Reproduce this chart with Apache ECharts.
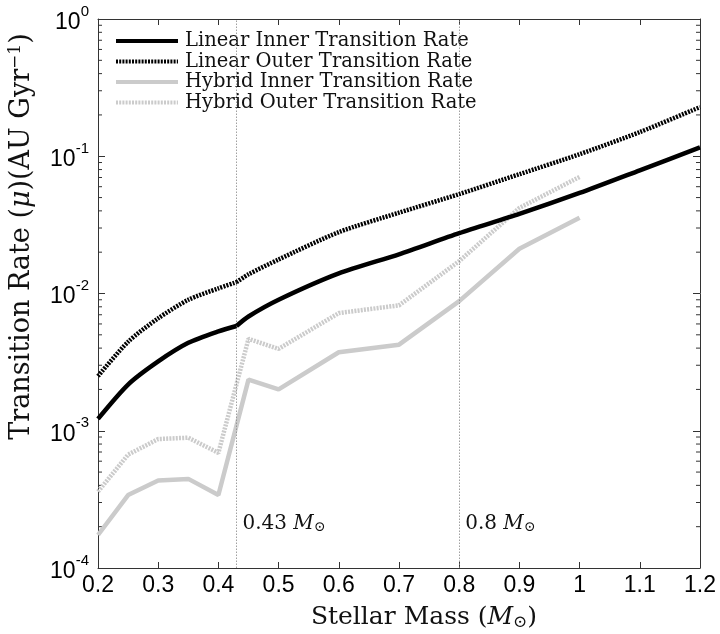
<!DOCTYPE html>
<html>
<head>
<meta charset="utf-8">
<script src="https://cdn.jsdelivr.net/npm/echarts@6/dist/echarts.min.js"></script>
<style>html,body{margin:0;padding:0;background:#fff}#c{width:720px;height:634px}</style>
</head>
<body>
<div id="c"></div>
<script>
// Stellar mass samples (M_sun); linear model has a kink at 0.43 M_sun
const linMassLow = [0.2, 0.25, 0.3, 0.35, 0.4, 0.43];
const linMassHigh = [0.43, 0.45, 0.5, 0.6, 0.7, 0.8, 0.9, 1.0, 1.1, 1.2];
const linInnerLow = [1.22e-3, 2.17e-3, 3.2e-3, 4.37e-3, 5.3e-3, 5.8e-3];
const linInnerHigh = [5.8e-3, 6.8e-3, 9.0e-3, 0.0140, 0.0193, 0.0275, 0.038, 0.054, 0.079, 0.116];
const linOuterLow = [2.5e-3, 4.45e-3, 6.6e-3, 9.0e-3, 0.0109, 0.0121];
const linOuterHigh = [0.0121, 0.0138, 0.0177, 0.0280, 0.0388, 0.053, 0.074, 0.1035, 0.15, 0.228];
const hybMass = [0.2, 0.25, 0.3, 0.35, 0.4, 0.45, 0.5, 0.6, 0.7, 0.8, 0.9, 1.0];
const hybInner = [1.74e-4, 3.4e-4, 4.34e-4, 4.46e-4, 3.4e-4, 2.36e-3, 2.0e-3, 3.73e-3, 4.24e-3, 8.8e-3, 0.0212, 0.0357];
const hybOuter = [3.6e-4, 6.7e-4, 8.7e-4, 8.9e-4, 6.9e-4, 4.67e-3, 3.95e-3, 7.2e-3, 8.2e-3, 0.0172, 0.042, 0.0707];
const seriesNames = ['Linear Inner Transition Rate', 'Linear Outer Transition Rate', 'Hybrid Inner Transition Rate', 'Hybrid Outer Transition Rate'];
const markMasses = [0.43, 0.8];
const markLabels = ['0.43', '0.8'];
const markLabelY = 2.1e-4;
const xMin = 0.2, xMax = 1.2, xStep = 0.1;
const yMin = 1e-4, yMax = 1;
const minorVals = [];
for (let d = -4; d < 0; d++) for (let k = 2; k <= 9; k++) minorVals.push(k * Math.pow(10, d));

const zip = (xs, ys) => xs.map((x, i) => [x, ys[i]]);
const serif = 'DejaVu Serif';
const sans = 'Liberation Sans';
const axisColor = '#333';
const gray = '#cbcbcb';
const dotted = [2, 1.2];

const chart = echarts.init(document.getElementById('c'), null, {renderer: 'canvas'});

function linSeries(name, data, dashed) {
  return {
    name: name, type: 'line', data: data, symbol: 'none', z: 5,
    smooth: 0.25,
    lineStyle: {color: '#000', width: 4.5, type: dashed ? dotted : 'solid'},
    itemStyle: {color: '#000', opacity: 0}
  };
}
function hybSeries(name, data, dashed) {
  return {
    name: name, type: 'line', data: data, symbol: 'none', z: 4,
    lineStyle: {color: gray, width: 4.5, type: dashed ? dotted : 'solid'},
    itemStyle: {color: gray, opacity: 0}
  };
}

const s0 = linSeries(seriesNames[0], zip(linMassLow, linInnerLow), false);
s0.markLine = {
  silent: true, symbol: 'none', label: {show: false},
  lineStyle: {color: '#888', width: 0.8, type: [1.5, 1.5]},
  data: markMasses.map(m => ({xAxis: m}))
};

const option = {
  backgroundColor: '#fff',
  animation: false,
  grid: {left: 98, right: 20, top: 19, bottom: 66, containLabel: false, outerBoundsMode: 'none'},
  legend: {
    data: seriesNames,
    orient: 'vertical',
    left: 114, top: 31,
    padding: 0,
    itemWidth: 62, itemHeight: 10, itemGap: 0.5,
    itemStyle: {opacity: 0},
    lineStyle: {width: 4},
    textStyle: {fontFamily: serif, fontSize: 19.5, color: '#111', lineHeight: 18, padding: [0, 0, 0, 2]},
    selectedMode: false
  },
  xAxis: [{
    type: 'value', min: xMin, max: xMax, interval: xStep,
    name: 'Stellar Mass ({i|M}{s|⊙})',
    nameLocation: 'middle', nameGap: 36,
    nameTextStyle: {fontFamily: serif, fontSize: 25, color: '#111', padding: [0, 0, 0, 50],
      rich: {i: {fontFamily: serif, fontStyle: 'italic', fontSize: 25, color: '#111'},
             s: {fontFamily: serif, fontSize: 17, color: '#111', padding: [10, 0, 0, 0]}}},
    axisLine: {show: true, lineStyle: {color: axisColor, width: 1}},
    axisTick: {show: true, inside: true, length: 6, lineStyle: {color: axisColor}},
    axisLabel: {fontFamily: sans, fontSize: 23, color: '#000', margin: 6,
      formatter: v => String(+v.toFixed(1))},
    splitLine: {show: false}
  }, {
    type: 'value', min: xMin, max: xMax, interval: xStep, position: 'top',
    axisLine: {show: true, lineStyle: {color: axisColor, width: 1}},
    axisTick: {show: true, inside: true, length: 6, lineStyle: {color: axisColor}},
    axisLabel: {show: false}, splitLine: {show: false}
  }],
  yAxis: [{
    type: 'log', logBase: 10, min: yMin, max: yMax,
    name: 'Transition Rate ({i|μ})(AU Gyr{s|−1})',
    nameLocation: 'middle', nameGap: 62, nameRotate: 90,
    nameTextStyle: {fontFamily: serif, fontSize: 27, color: '#111', padding: [0, 0, 0, 114],
      rich: {i: {fontFamily: serif, fontStyle: 'italic', fontSize: 27, color: '#111'},
             s: {fontFamily: serif, fontSize: 17, color: '#111', padding: [0, 0, 12, 0]}}},
    axisLine: {show: true, lineStyle: {color: axisColor, width: 1}},
    axisTick: {show: true, inside: true, length: 7, lineStyle: {color: axisColor}},
    axisLabel: {margin: 9, formatter: v => '{b|10}{e|' + Math.round(Math.log10(v)) + '}',
      rich: {b: {fontFamily: sans, fontSize: 23, color: '#000', verticalAlign: 'bottom', lineHeight: 30},
             e: {fontFamily: sans, fontSize: 15, color: '#000', verticalAlign: 'top', lineHeight: 15}}},
    splitLine: {show: false}
  }, {
    type: 'log', logBase: 10, min: yMin, max: yMax, position: 'right',
    axisLine: {show: true, lineStyle: {color: axisColor, width: 1}},
    axisTick: {show: true, inside: true, length: 7, lineStyle: {color: axisColor}},
    axisLabel: {show: false}, splitLine: {show: false}
  }],
  series: [
    s0,
    linSeries(seriesNames[0], zip(linMassHigh, linInnerHigh), false),
    linSeries(seriesNames[1], zip(linMassLow, linOuterLow), true),
    linSeries(seriesNames[1], zip(linMassHigh, linOuterHigh), true),
    hybSeries(seriesNames[2], zip(hybMass, hybInner), false),
    hybSeries(seriesNames[3], zip(hybMass, hybOuter), true),
    {
      type: 'scatter', symbolSize: 0, silent: true, itemStyle: {opacity: 1, color: '#111'},
      data: markMasses.map((m, i) => ({value: [m, markLabelY], label: {formatter: markLabels[i] + ' {i|M}{s|⊙}'}})),
      label: {show: true, position: 'right', distance: 6,
        fontFamily: serif, fontSize: 20, color: '#111',
        rich: {i: {fontFamily: serif, fontStyle: 'italic', fontSize: 20, color: '#111'},
               s: {fontFamily: serif, fontSize: 14, color: '#111', padding: [8, 0, 0, 0]}}}
    },
    {
      type: 'custom', silent: true, clip: false,
      data: minorVals.map(v => [xMin, v]),
      encode: {x: 0, y: 1},
      renderItem: function (params, api) {
        const v = api.value(1);
        const pl = api.coord([xMin, v]);
        const pr = api.coord([xMax, v]);
        return {type: 'group', children: [
          {type: 'line', shape: {x1: pl[0], y1: pl[1], x2: pl[0] + 4, y2: pl[1]}, style: {stroke: axisColor, lineWidth: 1}},
          {type: 'line', shape: {x1: pr[0], y1: pr[1], x2: pr[0] - 4, y2: pr[1]}, style: {stroke: axisColor, lineWidth: 1}}
        ]};
      }
    }
  ]
};
chart.setOption(option);
</script>
</body>
</html>
